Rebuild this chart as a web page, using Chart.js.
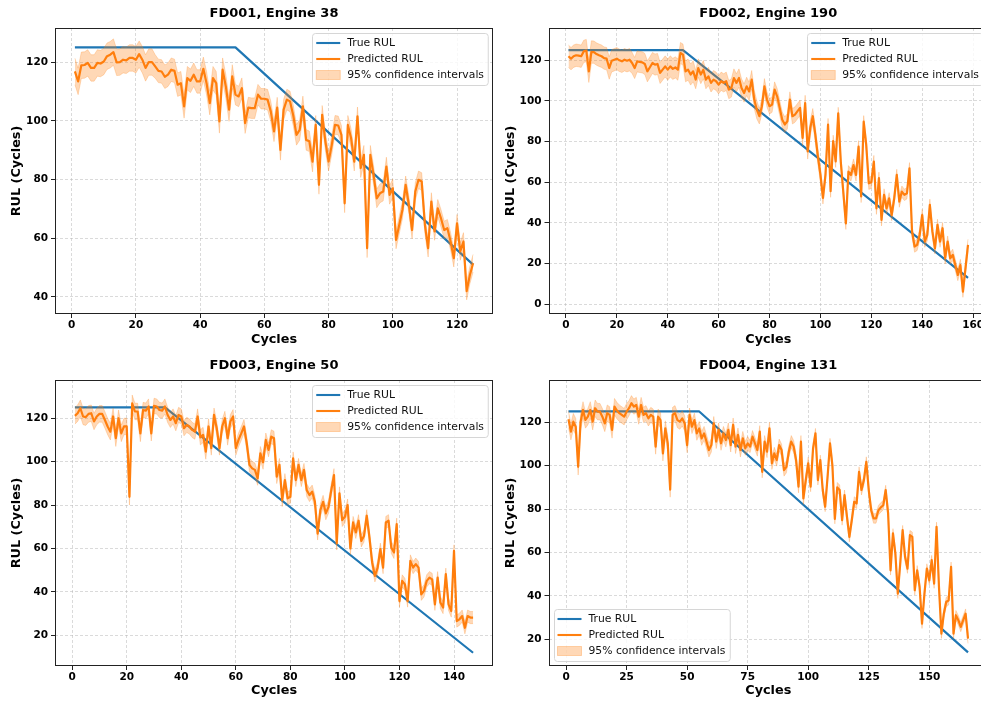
<!DOCTYPE html>
<html>
<head>
<meta charset="utf-8">
<script src="https://cdn.jsdelivr.net/npm/chart.js@4.4.1/dist/chart.umd.min.js"></script>
<style>
  html, body { margin: 0; padding: 0; background: #fff; width: 981px; height: 702px; overflow: hidden; position: relative; }
  canvas { position: absolute; }
</style>
</head>
<body>
<canvas id="c1" width="494" height="351" style="left:0;top:0"></canvas>
<canvas id="c2" width="506" height="351" style="left:494px;top:0"></canvas>
<canvas id="c3" width="494" height="351" style="left:0;top:351px"></canvas>
<canvas id="c4" width="506" height="351" style="left:494px;top:351px"></canvas>
<script>
/* ── data ────────────────────────────────────────────────────────────── */
const legendLabels = ['True RUL', 'Predicted RUL', '95% confidence intervals'];

// FD001, engine 38
const fd001TrueX = [1, 51, 125];
const fd001TrueY = [125, 125, 51];
const fd001Pred = [
  116.8, 113.4, 118.9, 119, 119.7, 118, 118, 119.7, 119.5, 120.2,
  122, 122.5, 123.4, 119.9, 120, 120.8, 120.6, 121.4, 121.4, 120.8,
  122.7, 120.8, 118, 120, 120, 118.5, 117, 116.8, 115, 115.7,
  117.4, 117, 112.3, 112.8, 104.9, 114.5, 113.6, 115.7, 113.4, 113.4,
  117.7, 112.8, 106, 114.5, 112.8, 99.8, 117.4, 111.7, 103.8, 115.1,
  108.9, 108.3, 111.1, 99.2, 104.5, 104.3, 104.3, 108.9, 107.5, 107.5,
  107.2, 103.2, 96.4, 104.5, 90.1, 103.8, 107.2, 106.6, 101.8, 95.2,
  96.9, 104.9, 93.5, 93, 86.1, 98.6, 78.2, 102, 93, 86.1,
  91.8, 98.6, 98.4, 95.2, 71.9, 98.6, 94.1, 86.1, 101.5, 83.9,
  88.4, 56.6, 88.4, 81.6, 73.6, 75.3, 75.9, 84.4, 74.8, 77,
  59.4, 64.5, 69.7, 78.2, 71.4, 62.8, 75.9, 79.9, 79.3, 64.5,
  56.6, 72.5, 62.3, 70.2, 66.8, 62.8, 63.4, 58.9, 53.2, 65.1,
  55.5, 58.9, 42, 47.5, 51.5
];
const fd001Ci = [4.5, 4, 3.5, 3.2, 3];          // half width per 25 cycles
const fd001XTicks = [0, 20, 40, 60, 80, 100, 120];
const fd001YTicks = [40, 60, 80, 100, 120];

// FD002, engine 190
const fd002TrueX = [1, 46, 158];
const fd002TrueY = [125, 125, 13];
const fd002Pred = [
  122, 120.8, 122, 122.5, 122.3, 122, 124.4, 124.8, 114.6, 124.1,
  124, 123.1, 122.5, 122, 121.1, 120.8, 116.2, 119.8, 120.3, 120.8,
  120, 119.5, 120.3, 119.8, 120.3, 118.7, 116.2, 119.5, 119.2, 119,
  118.2, 114.6, 116.6, 118.7, 117.9, 118.2, 113.8, 115.4, 117, 115.4,
  117, 115.8, 116.5, 115.4, 123.6, 122.8, 114.6, 115.4, 113, 114.6,
  110.5, 116.2, 113, 115.4, 110.5, 112.1, 108.9, 110.5, 109.7, 108,
  109.7, 108.9, 109.7, 105.6, 106.4, 111.3, 108.9, 111.3, 106.4, 103.9,
  107.2, 104.7, 110.5, 100.7, 95.7, 92.5, 97.4, 107.2, 100.7, 97.4,
  98.2, 105.6, 102.3, 96.6, 90.8, 88.4, 90, 100.7, 92.5, 93.3,
  95, 96.6, 81.8, 99, 75.2, 86.7, 92.5, 83.4, 72.8, 63.8,
  52.3, 63.8, 88.4, 55.6, 80.2, 70.3, 93.9, 70.2, 55, 39.8,
  65.2, 63.6, 68.5, 63.6, 77.5, 53, 89.8, 78.4, 59.5, 60,
  70.2, 47.2, 62, 41.5, 53.8, 47.2, 52.1, 43.9, 52.1, 63.6,
  50.5, 55.4, 53.8, 54.6, 66.9, 35.7, 28.4, 29.2, 34.1, 43.9,
  30.8, 34.1, 48.9, 35.7, 27.5, 39, 30.8, 37.4, 22.6, 30.8,
  22.6, 24.3, 19.3, 14.4, 19.3, 6.2, 17.7, 29.2
];
const fd002Ci = [5.5, 5.2, 4.5, 3.8, 3, 2.8, 2.8];
const fd002XTicks = [0, 20, 40, 60, 80, 100, 120, 140, 160];
const fd002YTicks = [0, 20, 40, 60, 80, 100, 120];

// FD003, engine 50
const fd003TrueX = [1, 34, 147];
const fd003TrueY = [125, 125, 12];
const fd003Pred = [
  121.1, 122.3, 124.6, 120.8, 120.5, 122, 122.3, 118.5, 120.8, 122,
  122, 119.2, 116.2, 113.8, 120.8, 110.8, 120, 113, 116.2, 116.2,
  83.8, 126.9, 123.1, 123.1, 113, 123.8, 123.5, 125.4, 113, 125.7,
  125.4, 123.8, 123.5, 125.4, 121.5, 119.2, 120.8, 117.7, 121.5, 120.8,
  115.4, 116.9, 116.2, 114.6, 113.8, 120.8, 111.2, 112.3, 104.6, 116.2,
  106.2, 121.5, 115.4, 106.2, 116.2, 120, 110.8, 118.5, 120.8, 106.2,
  110, 113, 116.2, 108.5, 98.5, 96.9, 96.2, 92.3, 103.8, 99.7,
  110, 105.4, 111.5, 110.8, 93.1, 98.5, 82.3, 91.5, 83.1, 83.8,
  101.5, 91.5, 98.5, 91.5, 96.2, 86.9, 84.6, 86.2, 81.5, 66.9,
  77.7, 81.5, 76.2, 79.2, 86.9, 93.8, 62.3, 85.4, 73.1, 74.6,
  80, 60, 72, 67.4, 72.8, 63.5, 65.8, 75.1, 65.1, 53.5,
  47.4, 51.2, 59.7, 51.2, 72, 72.8, 60.5, 58.2, 71.2, 35.8,
  45.1, 43.5, 35.8, 54.3, 51.2, 52.8, 51.2, 38.9, 40.5, 45.1,
  46.6, 45.8, 34.3, 46.6, 35.1, 32.8, 48.2, 34.3, 31.2, 58.9,
  26.6, 27.4, 28.9, 23.5, 28.9, 28.2, 28.2
];
const fd003Ci = [3.8, 3.5, 3.2, 3, 2.8, 2.8];
const fd003XTicks = [0, 20, 40, 60, 80, 100, 120, 140];
const fd003YTicks = [20, 40, 60, 80, 100, 120];

// FD004, engine 131
const fd004TrueX = [1, 55, 166];
const fd004TrueY = [125, 125, 14];
const fd004Pred = [
  121.4, 115.7, 120.3, 118, 99.5, 120.3, 125.7, 121.1, 122.6, 125.7,
  120.3, 126.5, 124.9, 124.9, 122.6, 119.5, 124.2, 123.4, 116.5, 127.2,
  125.4, 124.2, 123.4, 122.6, 124.9, 126.5, 128.8, 127.2, 128, 122.6,
  128, 123.4, 124.2, 121.8, 123.4, 122.6, 108.8, 122.6, 121, 105.7,
  117.2, 110.3, 89, 123.4, 124.2, 121, 120.3, 121.8, 119.5, 109.5,
  123.4, 118, 121, 114.9, 117.2, 112.6, 114.9, 111.1, 107.2, 109.5,
  119.5, 111.1, 116.5, 110.3, 114.9, 111.8, 116.5, 109.5, 118.8, 108.8,
  114.2, 107.2, 112.6, 108, 110.3, 108.8, 113.4, 110.3, 107.2, 115.7,
  97.2, 111.1, 106.5, 117.2, 101.1, 105.7, 102.6, 109.5, 107.2, 98,
  99.5, 106.5, 111.1, 108.8, 102.6, 90.3, 111.1, 84.9, 93.4, 101.1,
  90.3, 108, 114.9, 93.4, 102.6, 88.8, 81.1, 94.9, 110.3, 100,
  75.5, 90, 88.8, 74.9, 86.5, 76.5, 67.2, 74.9, 83.4, 82.6,
  97.2, 88.8, 93.4, 101.8, 88.8, 79.5, 75.7, 75.7, 79.5, 80.8,
  81.8, 88.8, 78, 51.8, 68.8, 59.5, 41, 54.9, 70.3, 58,
  52.6, 68, 67.2, 42.6, 51.8, 44.2, 27.2, 41, 52.6, 47.2,
  56.5, 45.7, 71.8, 44.2, 22.6, 31.8, 37.2, 38, 53.4, 22.6,
  31.1, 28.8, 25.7, 28.8, 31.8, 20.3
];
const fd004Ci = [3.8, 3.5, 3.2, 2.8, 2.3, 2.2, 2.2];
const fd004XTicks = [0, 25, 50, 75, 100, 125, 150];
const fd004YTicks = [20, 40, 60, 80, 100, 120];

/* ── styling ─────────────────────────────────────────────────────────── */
const FONT = '"DejaVu Sans", sans-serif';
const BLUE = '#1f77b4';
const ORANGE = '#ff7f0e';
const BAND = 'rgba(255,127,14,0.3)';
const GRID = 'rgba(176,176,176,0.6)';
const TITLE_SIZE = 13, TITLE_PAD = [5, 7];
const TITLE_H = TITLE_SIZE * 1.2 + TITLE_PAD[0] + TITLE_PAD[1];

// full box around the axes (matplotlib spines)
const spines = {
  id: 'spines',
  afterDatasetsDraw(chart) {
    const { ctx, chartArea: a } = chart;
    ctx.save();
    ctx.strokeStyle = '#222';
    ctx.lineWidth = 1;
    const l = Math.round(a.left) + 0.5, t = Math.round(a.top) + 0.5;
    const r = Math.round(a.right) - 0.5, b = Math.round(a.bottom) - 0.5;
    ctx.strokeRect(l, t, r - l, b - t);
    ctx.restore();
  }
};

// matplotlib style legend box
const rulLegend = {
  id: 'rulLegend',
  afterDraw(chart, args, o) {
    const { ctx, chartArea: a } = chart;
    ctx.save();
    ctx.font = '10.8px ' + FONT;
    const textW = Math.max(...legendLabels.map(t => ctx.measureText(t).width));
    const w = textW + 39, h = 52;
    const x = o.corner === 'll' ? a.left + 5 : a.right - 5 - w;
    const y = o.corner === 'll' ? a.bottom - 5 - h : a.top + 5;
    ctx.beginPath();
    ctx.roundRect(Math.round(x) + 0.5, Math.round(y) + 0.5, w, h, 3);
    ctx.fillStyle = 'rgba(255,255,255,0.8)';
    ctx.fill();
    ctx.strokeStyle = '#d6d6d6';
    ctx.lineWidth = 1;
    ctx.stroke();
    const rows = [y + 10, y + 26, y + 42];
    ctx.lineWidth = 2.1;
    ctx.strokeStyle = BLUE;
    ctx.beginPath(); ctx.moveTo(x + 4, rows[0]); ctx.lineTo(x + 28, rows[0]); ctx.stroke();
    ctx.strokeStyle = ORANGE;
    ctx.beginPath(); ctx.moveTo(x + 4, rows[1]); ctx.lineTo(x + 28, rows[1]); ctx.stroke();
    ctx.fillStyle = BAND;
    ctx.fillRect(x + 4, rows[2] - 4.5, 24, 9);
    ctx.strokeStyle = BAND; ctx.lineWidth = 1;
    ctx.strokeRect(x + 4, rows[2] - 4.5, 24, 9);
    ctx.fillStyle = '#111';
    ctx.textBaseline = 'middle';
    legendLabels.forEach((t, i) => ctx.fillText(t, x + 35, rows[i] + 0.5));
    ctx.restore();
  }
};

function toPoints(xs, ys) { return xs.map((x, i) => ({ x, y: ys[i] })); }
function predPoints(pred) { return pred.map((y, i) => ({ x: i + 1, y })); }
function band(pred, ci, sign) {
  return pred.map((y, i) => ({ x: i + 1, y: y + sign * ci[Math.floor(i / 25)] }));
}

function makePanel(p) {
  const cv = document.getElementById(p.id);
  const A = p.area;
  const tickFont = { family: FONT, size: 10.5, weight: 'bold' };
  const labelFont = { family: FONT, size: 12.8, weight: 'bold' };
  const lblHalf = labelFont.size * 1.2 / 2;
  const gridCfg = { color: GRID, lineWidth: 0.8, tickColor: '#222', tickLength: 4, tickWidth: 1 };

  new Chart(cv, {
    type: 'line',
    data: {
      datasets: [
        { label: legendLabels[0], data: toPoints(p.trueX, p.trueY), borderColor: BLUE, borderWidth: 2.2,
          pointRadius: 0, fill: false, order: 3, borderJoinStyle: 'round' },
        { label: legendLabels[1], data: predPoints(p.pred), borderColor: ORANGE, borderWidth: 2.2,
          pointRadius: 0, fill: false, order: 2, borderJoinStyle: 'round' },
        { label: 'lower', data: band(p.pred, p.ci, -1), borderColor: BAND, borderWidth: 0.8,
          pointRadius: 0, fill: false, order: 1 },
        { label: legendLabels[2], data: band(p.pred, p.ci, 1), borderColor: BAND, borderWidth: 0.8,
          backgroundColor: BAND, pointRadius: 0, fill: '-1', order: 1 }
      ]
    },
    options: {
      responsive: false,
      animation: false,
      devicePixelRatio: 1,
      events: [],
      layout: { padding: { left: 0, right: cv.width - A.right, top: A.top - TITLE_H, bottom: 0 } },
      plugins: {
        legend: { display: false },
        tooltip: { enabled: false },
        title: {
          display: true, text: p.title, fullSize: false, color: '#000',
          font: { family: FONT, size: TITLE_SIZE, weight: 'bold', lineHeight: 1.2 },
          padding: { top: TITLE_PAD[0], bottom: TITLE_PAD[1] }
        },
        rulLegend: { corner: p.legend }
      },
      scales: {
        x: {
          type: 'linear', min: p.xRange[0], max: p.xRange[1],
          afterBuildTicks: s => { s.ticks = p.xTicks.map(v => ({ value: v })); },
          afterFit: s => { s.height = cv.height - A.bottom; },
          ticks: { font: tickFont, color: '#000', padding: 1, maxRotation: 0, autoSkip: false },
          grid: gridCfg,
          border: { display: false, dash: [3, 2] },
          title: { display: true, text: 'Cycles', color: '#000', font: labelFont,
                   padding: { top: 0, bottom: 11 - lblHalf } }
        },
        y: {
          type: 'linear', min: p.yRange[0], max: p.yRange[1],
          afterBuildTicks: s => { s.ticks = p.yTicks.map(v => ({ value: v })); },
          afterFit: s => { s.width = A.left; },
          ticks: { font: tickFont, color: '#000', padding: 3, autoSkip: false },
          grid: gridCfg,
          border: { display: false, dash: [3, 2] },
          title: { display: true, text: 'RUL (Cycles)', color: '#000', font: labelFont,
                   padding: { top: A.left - 38 - lblHalf, bottom: 0 } }
        }
      }
    },
    plugins: [spines, rulLegend]
  });
}

makePanel({ id: 'c1', title: 'FD001, Engine 38', trueX: fd001TrueX, trueY: fd001TrueY, pred: fd001Pred, ci: fd001Ci,
  xTicks: fd001XTicks, yTicks: fd001YTicks, xRange: [-5.2, 131.2], yRange: [34.2, 131.6], legend: 'ur',
  area: { left: 55, right: 493, top: 28, bottom: 314 } });
makePanel({ id: 'c2', title: 'FD002, Engine 190', trueX: fd002TrueX, trueY: fd002TrueY, pred: fd002Pred, ci: fd002Ci,
  xTicks: fd002XTicks, yTicks: fd002YTicks, xRange: [-6.85, 165.85], yRange: [-4.8, 135.9], legend: 'ur',
  area: { left: 54.5, right: 494, top: 28, bottom: 314 } });
makePanel({ id: 'c3', title: 'FD003, Engine 50', trueX: fd003TrueX, trueY: fd003TrueY, pred: fd003Pred, ci: fd003Ci,
  xTicks: fd003XTicks, yTicks: fd003YTicks, xRange: [-6.3, 154.3], yRange: [5.9, 137.6], legend: 'ur',
  area: { left: 55, right: 493, top: 29, bottom: 315 } });
makePanel({ id: 'c4', title: 'FD004, Engine 131', trueX: fd004TrueX, trueY: fd004TrueY, pred: fd004Pred, ci: fd004Ci,
  xTicks: fd004XTicks, yTicks: fd004YTicks, xRange: [-7.25, 174.25], yRange: [7.7, 139.5], legend: 'll',
  area: { left: 54.5, right: 494, top: 29, bottom: 315 } });
</script>
</body>
</html>
